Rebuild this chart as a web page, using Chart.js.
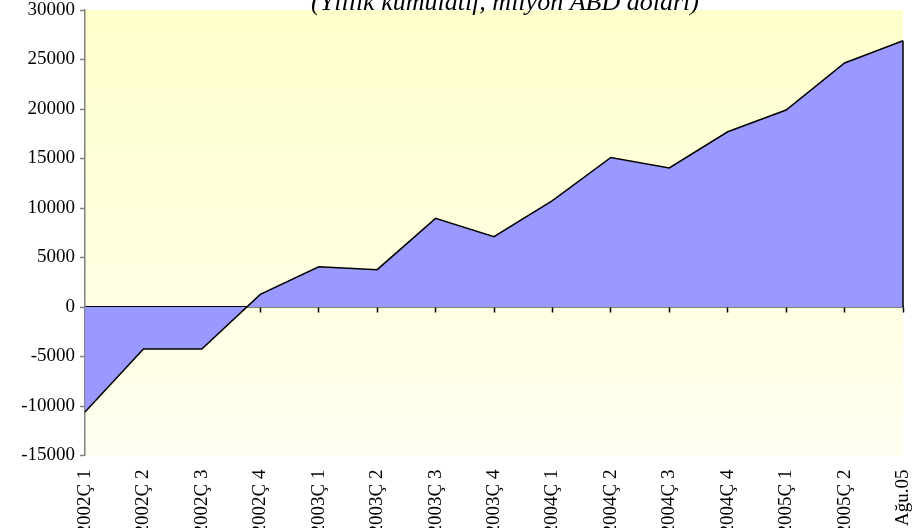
<!DOCTYPE html>
<html>
<head>
<meta charset="utf-8">
<script src="https://cdn.jsdelivr.net/npm/chart.js@4/dist/chart.umd.min.js"></script>
<style>
  html, body { margin: 0; padding: 0; background: #fff; }
  #wrap { width: 915px; height: 528px; }
</style>
</head>
<body>
<div id="wrap"><canvas id="chart" width="915" height="528"></canvas></div>
<script>
const periods = [
  '2002Ç 1', '2002Ç 2', '2002Ç 3', '2002Ç 4',
  '2003Ç 1', '2003Ç 2', '2003Ç 3', '2003Ç 4',
  '2004Ç 1', '2004Ç 2', '2004Ç 3', '2004Ç 4',
  '2005Ç 1', '2005Ç 2', 'Ağu.05'
];
const cumulative = [
  -10600, -4250, -4250, 1280,
  4070, 3770, 8950, 7100,
  10750, 15100, 14050, 17700,
  19900, 24650, 26900
];
const yMin = -15000;
const yMax = 30000;
const yStep = 5000;
const chartTitle = '(Yıllık kümülatif, milyon ABD doları)';

const FONT = "'Liberation Serif', 'Times New Roman', serif";

// yellow gradient behind the plot
const plotBackground = {
  id: 'plotBackground',
  beforeDraw(chart) {
    const { ctx, chartArea: a } = chart;
    const g = ctx.createLinearGradient(0, a.top, 0, a.bottom);
    g.addColorStop(0, '#ffffcc');
    g.addColorStop(1, '#fffff0');
    ctx.save();
    ctx.fillStyle = g;
    ctx.fillRect(a.left, a.top, a.right - a.left, a.bottom - a.top);
    ctx.restore();
  }
};

// closing edge of the area at the last point, like the original
const areaEdge = {
  id: 'areaEdge',
  afterDatasetsDraw(chart) {
    const pts = chart.getDatasetMeta(0).data;
    const last = pts[pts.length - 1];
    const zero = chart.scales.y.getPixelForValue(0);
    const ctx = chart.ctx;
    ctx.save();
    ctx.strokeStyle = '#000';
    ctx.lineWidth = 1.5;
    ctx.beginPath();
    ctx.moveTo(last.x, last.y);
    ctx.lineTo(last.x, zero);
    ctx.stroke();
    ctx.restore();
  }
};

// title sits half above the canvas edge
const topTitle = {
  id: 'topTitle',
  afterDraw(chart) {
    const ctx = chart.ctx;
    ctx.save();
    ctx.font = 'italic 26px ' + FONT;
    ctx.fillStyle = '#000';
    ctx.textAlign = 'center';
    ctx.textBaseline = 'alphabetic';
    ctx.fillText(chartTitle, 505, 10);
    ctx.restore();
  }
};

new Chart(document.getElementById('chart'), {
  type: 'line',
  data: {
    labels: periods,
    datasets: [{
      data: cumulative,
      fill: 'origin',
      backgroundColor: '#9999ff',
      borderColor: '#000',
      borderWidth: 1.5,
      pointRadius: 0,
      tension: 0
    }]
  },
  options: {
    responsive: false,
    animation: false,
    layout: { padding: { top: 10, right: 12 } },
    plugins: {
      legend: { display: false },
      tooltip: { enabled: false }
    },
    scales: {
      x: {
        offset: false,
        grid: { display: false, drawTicks: false },
        border: { display: false },
        ticks: {
          autoSkip: false,
          minRotation: 90,
          maxRotation: 90,
          padding: 14,
          color: '#000',
          font: { family: FONT, size: 19 }
        },
        afterFit(s) { s.height = 72.5; s.paddingLeft = 0; s.paddingRight = 0; }
      },
      x2: {
        type: 'category',
        labels: periods,
        offset: false,
        position: { y: 0 },
        grid: { drawOnChartArea: false, drawTicks: true, tickLength: 5, tickColor: '#000', tickWidth: 1.5 },
        border: { display: true, color: '#000', width: 1.5 },
        ticks: { display: false, autoSkip: false }
      },
      y: {
        min: yMin,
        max: yMax,
        grid: { drawOnChartArea: false, drawTicks: true, tickLength: 5, tickColor: '#808080', tickWidth: 1.5 },
        border: { display: true, color: '#808080', width: 1.5 },
        ticks: {
          stepSize: yStep,
          padding: 5,
          color: '#000',
          font: { family: FONT, size: 19 },
          callback: (v) => String(v)
        },
        afterFit(s) { s.width = 85; s.paddingTop = 0; s.paddingBottom = 0; }
      }
    }
  },
  plugins: [plotBackground, areaEdge, topTitle]
});
</script>
</body>
</html>
